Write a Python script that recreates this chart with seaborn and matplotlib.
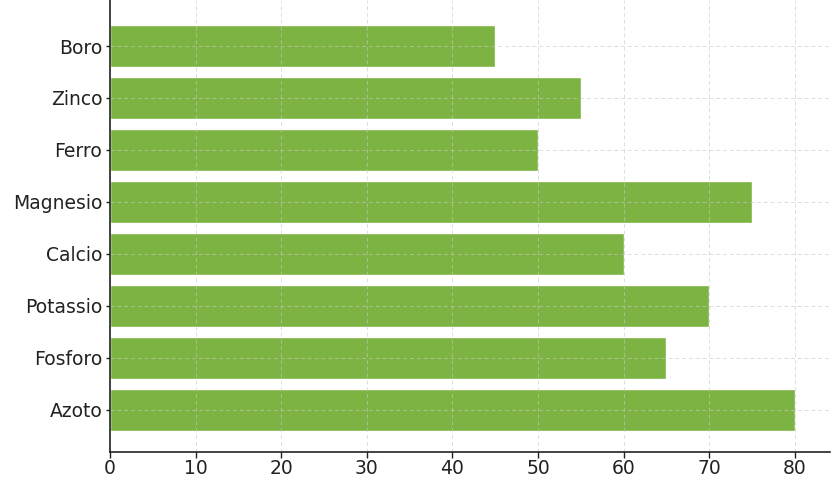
import matplotlib
matplotlib.use("Agg")
import matplotlib.pyplot as plt
import seaborn as sns
import pandas as pd

nutrients = ["Boro", "Zinco", "Ferro", "Magnesio", "Calcio", "Potassio", "Fosforo", "Azoto"]
values = [45, 55, 50, 75, 60, 70, 65, 80]
xticks = [0, 10, 20, 30, 40, 50, 60, 70, 80]

sns.set_theme(style="white")
plt.rcParams["font.family"] = ["DejaVu Sans"]

df = pd.DataFrame({"Nutriente": nutrients, "Valore": values})

fig = plt.figure(figsize=(8.4, 4.8), dpi=100)
ax = fig.add_axes([110 / 840, 1 - 452 / 480, 720 / 840, 452 / 480])

sns.barplot(data=df, x="Valore", y="Nutriente", orient="h", color="#7cb342",
            saturation=1, width=0.8, ax=ax, order=nutrients)

ax.set_xlim(0, 84.1)
ax.set_ylim(7.81, -0.885)
ax.set_xticks(xticks)
ax.set_xlabel("")
ax.set_ylabel("")
ax.grid(True, linestyle=(0, (4, 3)), color="#c8c8c8", linewidth=0.7, alpha=0.6)
ax.set_axisbelow(False)
for s in ["top", "right"]:
    ax.spines[s].set_visible(False)
for s in ["left", "bottom"]:
    ax.spines[s].set_color("#222222")
    ax.spines[s].set_linewidth(1.2)
    ax.spines[s].set_zorder(5)
ax.tick_params(axis="x", labelsize=13.5, colors="#222222", length=4, width=1,
               direction="out", bottom=True, pad=1.0)
ax.tick_params(axis="y", labelsize=13.5, colors="#222222", length=3, width=1,
               direction="out", left=True, pad=2.5)

fig.savefig("out.png", dpi=100)
